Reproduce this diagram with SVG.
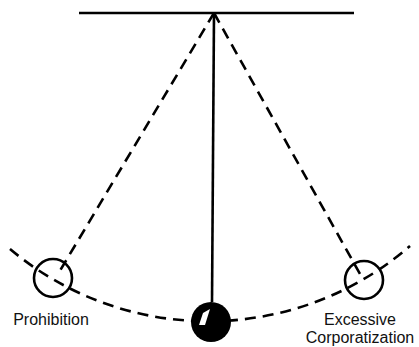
<svg xmlns="http://www.w3.org/2000/svg" width="419" height="347" viewBox="0 0 419 347">
<style>
.dash{fill:none;stroke:#000;stroke-width:2.6;stroke-dasharray:11 7}
.solid{fill:none;stroke:#000;stroke-width:2.6}
.bob{fill:none;stroke:#000;stroke-width:2.6}
.lbl{font-family:"Liberation Sans",Arial,sans-serif;font-size:16px;fill:#111;text-anchor:middle}
</style>
<rect width="419" height="347" fill="#fff"/>
<g id="connectors">
<line class="solid" x1="79" y1="13" x2="354" y2="13" stroke-width="3"/>
<line class="solid" x1="214" y1="13" x2="212" y2="302"/>
<line class="dash" x1="214" y1="13" x2="58" y2="274"/>
<line class="dash" x1="214" y1="13" x2="360" y2="274"/>
<path class="dash" d="M10,249 A308,308 0 0 0 410,246"/>
</g>
<g id="prohibition">
<circle class="bob" cx="53" cy="278" r="19"/>
<text class="lbl" x="51" y="325">Prohibition</text>
</g>
<g id="excessive">
<circle class="bob" cx="364" cy="280" r="19"/>
<text class="lbl" x="360" y="325">Excessive</text>
<text class="lbl" x="360" y="343">Corporatization</text>
</g>
<g id="ball">
<circle cx="211" cy="322" r="20" fill="#000"/>
<path d="M199,325 L203,313 L210,309 L205,325 Z" fill="#fff"/>
</g>
</svg>
